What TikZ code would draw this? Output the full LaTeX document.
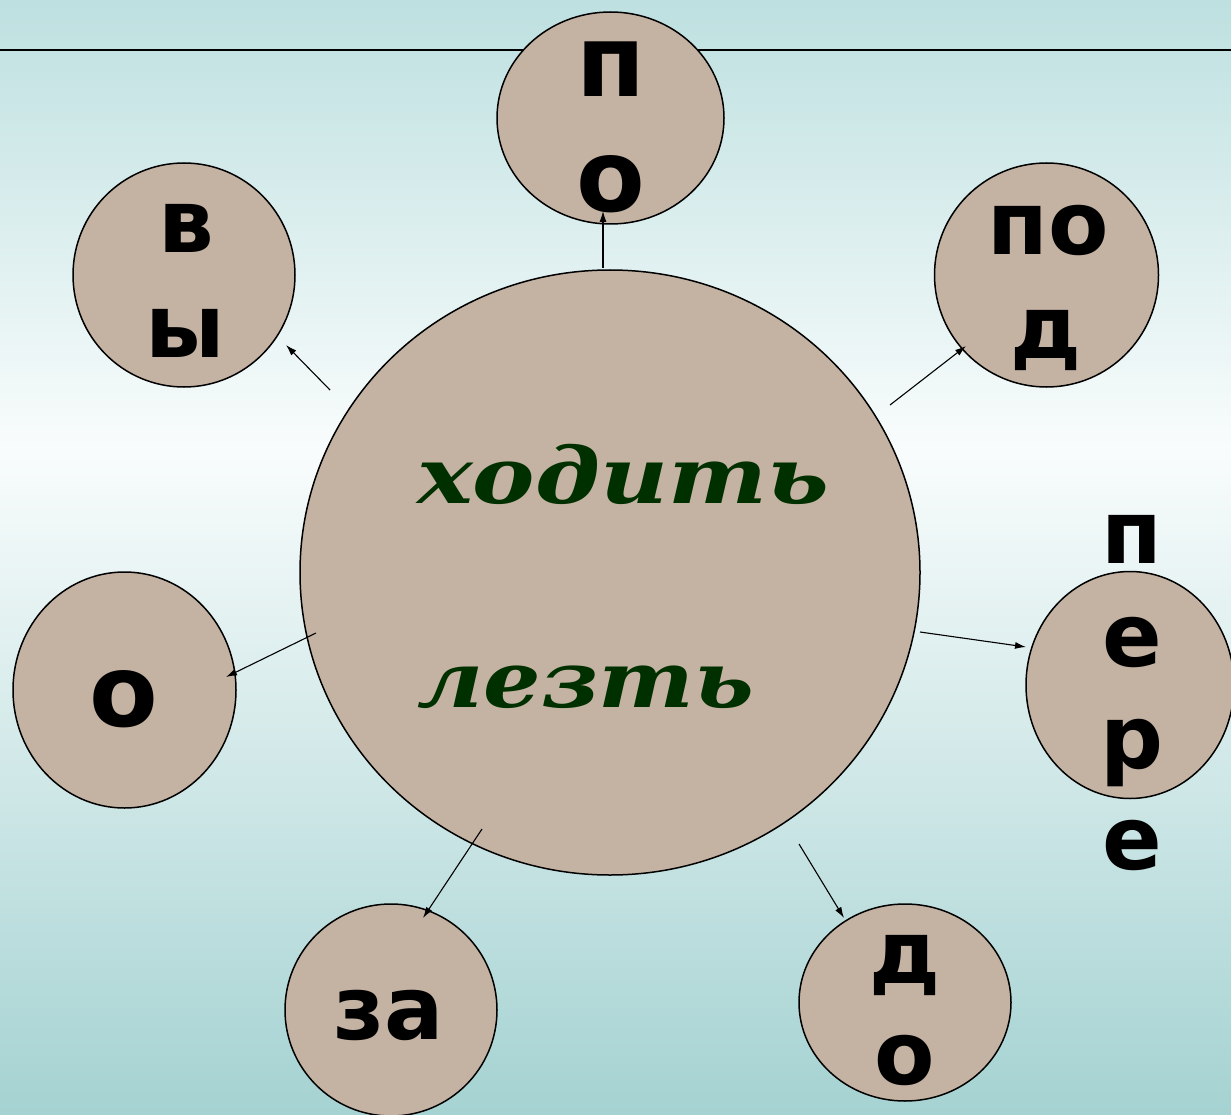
\documentclass[tikz,border=0pt]{standalone}
\usepackage{fontspec}
\usepackage{graphicx}
\usetikzlibrary{shapes.geometric,arrows.meta}
\newfontfamily\letterfont{DejaVu Sans}
\newfontfamily\wordfont{DejaVu Serif}
\definecolor{bgtop}{RGB}{190,224,224}
\definecolor{bgmid}{RGB}{249,252,252}
\definecolor{bgbot}{RGB}{165,210,210}
\definecolor{circfill}{RGB}{196,178,163}
\definecolor{wordgreen}{RGB}{0,48,0}
\begin{document}
\begin{tikzpicture}[x=1pt,y=-1pt,
  bubble/.style={ellipse,draw=black,line width=1.5pt,fill=circfill,inner sep=0pt},
  letter/.style={anchor=base,inner sep=0pt,font=\letterfont\bfseries\fontsize{88}{100}\selectfont},
  bigletter/.style={anchor=base,inner sep=0pt,font=\letterfont\bfseries\fontsize{100}{116}\selectfont},
  word/.style={anchor=base west,inner sep=0pt,text=wordgreen,font=\wordfont\bfseries\itshape\fontsize{78}{90}\selectfont},
  conn/.style={-{Latex[length=11pt,width=7pt]},line width=1.1pt}
]
\useasboundingbox (0,0) rectangle (1231,1115);
\fill[top color=bgtop,bottom color=bgmid] (0,0) rectangle (1231,450);
\fill[top color=bgmid,bottom color=bgbot] (0,450) rectangle (1231,1115);
\coordinate (ruleL) at (0,50.5);
\coordinate (ruleR) at (1231,50.5);
\draw[line width=2pt] (ruleL) -- (ruleR);

% circles
\node[bubble,minimum width=620pt,minimum height=605pt] (core) at (610,572.5) {};
\node[bubble,minimum width=227pt,minimum height=212pt] (po) at (610.5,118) {};
\node[bubble,minimum width=222pt,minimum height=224pt] (vy) at (184,275) {};
\node[bubble,minimum width=224pt,minimum height=224pt] (pod) at (1046.5,275) {};
\node[bubble,minimum width=208pt,minimum height=227pt] (pere) at (1130,685) {};
\node[bubble,minimum width=223pt,minimum height=236pt] (o) at (124.5,690) {};
\node[bubble,minimum width=212pt,minimum height=212pt] (za) at (391,1010) {};
\node[bubble,minimum width=212pt,minimum height=197pt] (do) at (905,1002.5) {};

% words
\node[word] (w1) at (417,503) {\resizebox{412pt}{\height}{ходить}};
\node[word] (w2) at (417,707) {\resizebox{337pt}{\height}{лезть}};

% letters
\node[bigletter] (po1) at (611,97) {п};
\node[bigletter] (po2) at (611,212) {о};
\node[letter] (vy1) at (186,253) {в};
\node[letter] (vy2) at (185,357) {ы};
\node[letter] (pod1) at (1048,255) {по};
\node[letter] (pod2) at (1046,358) {д};
\node[letter] (pere1) at (1132,563) {п};
\node[letter] (pere2) at (1132,666) {е};
\node[letter] (pere3) at (1132,768) {р};
\node[letter] (pere4) at (1132,869) {е};
\node[bigletter] (o1) at (124,726) {о};
\node[letter] (za1) at (389,1039) {за};
\node[letter] (do1) at (905,983) {д};
\node[letter] (do2) at (905,1084) {о};

% arrow ends
\coordinate (sPo) at (603,268);   \coordinate (tPo) at (603,211);
\coordinate (sVy) at (330,390);   \coordinate (tVy) at (286,345);
\coordinate (sPod) at (890,405);  \coordinate (tPod) at (966,346);
\coordinate (sPere) at (920,632); \coordinate (tPere) at (1026,647);
\coordinate (sO) at (316,633);    \coordinate (tO) at (226,677);
\coordinate (sZa) at (482,829);   \coordinate (tZa) at (423,918);
\coordinate (sDo) at (799,844);   \coordinate (tDo) at (844,918);
\draw[conn] (sPo) -- (tPo);
\draw[conn] (sVy) -- (tVy);
\draw[conn] (sPod) -- (tPod);
\draw[conn] (sPere) -- (tPere);
\draw[conn] (sO) -- (tO);
\draw[conn] (sZa) -- (tZa);
\draw[conn] (sDo) -- (tDo);
\end{tikzpicture}
\end{document}
